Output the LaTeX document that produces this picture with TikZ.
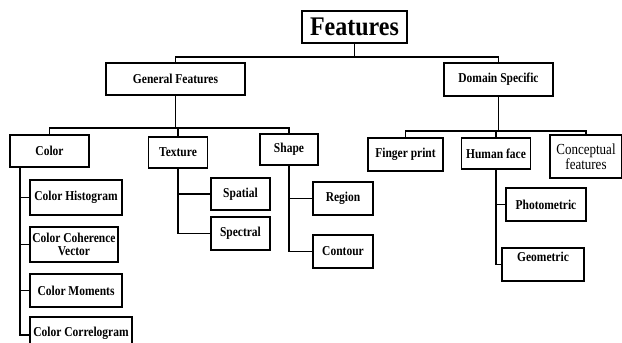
\documentclass[tikz,border=0pt]{standalone}
\usepackage{fontspec}
\setmainfont{Liberation Serif}
\newcommand{\tl}[1]{\scalebox{1}[1.18]{#1}}
\begin{document}
\begin{tikzpicture}[x=1pt,y=-1pt,
  box/.style={draw=black, line width=1.8pt, inner sep=1pt, align=center,
    font=\bfseries\fontsize{11.5}{12}\selectfont},
  conn/.style={draw=black, line width=1.3pt}]
\useasboundingbox (0,0) rectangle (622,343);
% level 0
\node[box, minimum width=105pt, minimum height=32pt, font=\bfseries\fontsize{24}{26}\selectfont] (feat) at (354.5,27) {\scalebox{1}[1.12]{Features}};
% level 1
\node[box, minimum width=139pt, minimum height=32pt] (gen) at (175.5,79) {\tl{General Features}};
\node[box, minimum width=109pt, minimum height=33pt] (dom) at (498.5,79.5) {\tl{Domain Specific}};
% level 2 left
\node[box, minimum width=79pt, minimum height=32pt] (color) at (49.5,151) {\tl{Color}};
\node[box, minimum width=59pt, minimum height=31pt] (texture) at (178,152.5) {\tl{Texture}};
\node[box, minimum width=58pt, minimum height=31pt] (shape) at (289,149.5) {\raisebox{2pt}{\tl{Shape}}};
% level 2 right
\node[box, minimum width=75pt, minimum height=33pt] (fp) at (405.5,154.5) {\tl{Finger print}};
\node[box, minimum width=69pt, minimum height=31pt] (hf) at (496,153.5) {\tl{Human face}};
\node[box, minimum width=72pt, minimum height=43pt, font=\fontsize{13}{14}\selectfont] (conc) at (586,156.5) {\tl{Conceptual}\\\tl{features}};
% color children
\node[box, minimum width=92pt, minimum height=35pt] (ch) at (76,197.5) {\tl{Color Histogram}};
\node[box, minimum width=88pt, minimum height=35pt, font=\bfseries\fontsize{11.5}{12.5}\selectfont] (ccv) at (74,244.5) {\tl{Color Coherence}\\\tl{Vector}};
\node[box, minimum width=92pt, minimum height=33pt] (cm) at (76,290.5) {\tl{Color Moments}};
\node[box, minimum width=102pt, minimum height=32pt] (cc) at (81,333) {\raisebox{1.5pt}{\tl{Color Correlogram}}};
% texture children
\node[box, minimum width=59pt, minimum height=32pt] (spatial) at (240.5,194) {\tl{Spatial}};
\node[box, minimum width=59pt, minimum height=33pt] (spectral) at (240.5,233.5) {\tl{Spectral}};
% shape children
\node[box, minimum width=60pt, minimum height=33pt] (region) at (343,198.5) {\tl{Region}};
\node[box, minimum width=60pt, minimum height=33pt] (contour) at (343,251.5) {\tl{Contour}};
% human face children
\node[box, minimum width=80pt, minimum height=33pt] (photo) at (546,204.5) {\tl{Photometric}};
\node[box, minimum width=82pt, minimum height=33pt] (geo) at (543,264.5) {\raisebox{3.5pt}[0pt][0pt]{\tl{Geometric}}};
% bus levels
\coordinate (b1) at (0,57);
\coordinate (b2) at (0,128);
\coordinate (b3) at (0,131);
\coordinate (cv) at (20,167);
% connectors
\draw[conn] (feat.south) -- (feat.south |- b1);
\draw[conn] (gen.north) -- (gen.north |- b1) -- (dom.north |- b1) -- (dom.north);
\draw[conn] (gen.south) -- (gen.south |- b2);
\draw[conn] (color.north) -- (color.north |- b2) -- (shape.north |- b2) -- (shape.north);
\draw[conn] (texture.north) -- (texture.north |- b2);
\draw[conn] (dom.south) -- (dom.south |- b3);
\draw[conn] (fp.north) -- (fp.north |- b3) -- (conc.north |- b3) -- (conc.north);
\draw[conn] (hf.north) -- (hf.north |- b3);
\draw[conn] (cv) |- (ch.west);
\draw[conn] (cv) |- (ccv.west);
\draw[conn] (cv) |- (cm.west);
\draw[conn] (cv) |- ([yshift=-2pt]cc.west);
\draw[conn] (texture.south) |- (spatial.west);
\draw[conn] (texture.south) |- (spectral.west);
\draw[conn] (shape.south) |- (region.west);
\draw[conn] (shape.south) |- (contour.west);
\draw[conn] (hf.south) |- (photo.west);
\draw[conn] (hf.south) |- (geo.west);
\end{tikzpicture}
\end{document}
